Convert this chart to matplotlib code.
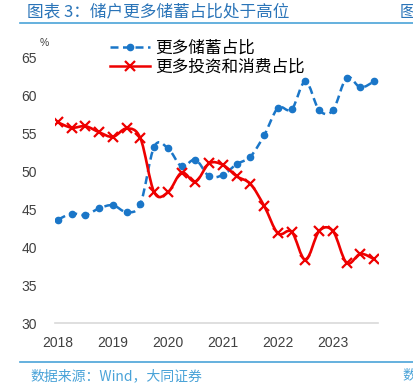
import numpy as np
import matplotlib.pyplot as plt
from matplotlib.path import Path
from matplotlib.patches import PathPatch
from matplotlib.lines import Line2D

plt.rcParams['font.family'] = ['Noto Sans CJK SC', 'DejaVu Sans']

# quarterly data, 2018Q1 .. 2023Q4
years = ["2018", "2019", "2020", "2021", "2022", "2023"]
savings = [43.6, 44.4, 44.2, 45.1, 45.5, 44.6, 45.7, 53.2,
           53.0, 50.6, 51.5, 49.3, 49.5, 50.9, 51.9, 54.7,
           58.3, 58.1, 61.8, 58.0, 58.0, 62.3, 61.0, 61.8]
invest_consume = [56.4, 55.7, 55.9, 55.1, 54.5, 55.6, 54.3, 47.2,
                  47.2, 49.8, 48.6, 51.0, 50.8, 49.3, 48.3, 45.4,
                  41.8, 42.0, 38.3, 42.1, 42.1, 37.9, 39.1, 38.4]
label_sav = "更多储蓄占比"
label_inv = "更多投资和消费占比"

blue = "#1a76c8"
red = "#ee0000"
title_blue = "#2a74b8"
rule_blue = "#4aa3d8"


def smooth_path(x, y, t=1 / 6.):
    # catmull-rom style bezier through the points (excel "smoothed line")
    x = np.asarray(x, float)
    y = np.asarray(y, float)
    n = len(x)
    verts = [(x[0], y[0])]
    codes = [Path.MOVETO]
    for i in range(n - 1):
        x0, y0 = (x[i - 1], y[i - 1]) if i > 0 else (x[i], y[i])
        x3, y3 = (x[i + 2], y[i + 2]) if i + 2 < n else (x[i + 1], y[i + 1])
        c1 = (x[i] + (x[i + 1] - x0) * t, y[i] + (y[i + 1] - y0) * t)
        c2 = (x[i + 1] - (x3 - x[i]) * t, y[i + 1] - (y3 - y[i]) * t)
        verts += [c1, c2, (x[i + 1], y[i + 1])]
        codes += [Path.CURVE4] * 3
    return Path(verts, codes)


fig = plt.figure(figsize=(4.13, 3.88), dpi=100)
ax = fig.add_axes([0.133, 0.1675, 0.782, 0.6855])

xs = np.arange(len(savings))
ax.add_patch(PathPatch(smooth_path(xs, savings), fill=False, ec=blue, lw=1.8,
                       ls=(0, (3.2, 1.8)), zorder=3))
ax.plot(xs, savings, ls="none", marker="o", ms=4.5, color=blue, zorder=4)
ax.add_patch(PathPatch(smooth_path(xs, invest_consume), fill=False, ec=red, lw=1.9,
                       zorder=3))
ax.plot(xs, invest_consume, ls="none", marker="x", ms=7, mew=1.6, color=red, zorder=4)

ax.set_xlim(-0.22, 23.27)
ax.set_ylim(30, 65)
ax.set_yticks(np.arange(30, 66, 5))
ax.set_xticks(np.arange(0, 24, 4))
ax.set_xticklabels(years)
for s in ["top", "right", "left"]:
    ax.spines[s].set_visible(False)
ax.spines["bottom"].set_color("#d9d9d9")
ax.spines["bottom"].set_linewidth(1.2)
ax.tick_params(length=0, labelsize=10, labelcolor="#404040", pad=9)
ax.tick_params(axis="y", pad=13)
for lab in ax.get_xticklabels() + ax.get_yticklabels():
    lab.set_family(["Liberation Sans", "DejaVu Sans"])
ax.text(44 / 413, 1 - 43 / 388, "%", transform=fig.transFigure, fontsize=7.5,
        color="#404040", ha="center", va="center", family=["Liberation Sans"])

handles = [Line2D([], [], color=blue, lw=1.8, ls=(0, (3.2, 1.8)), marker="o", ms=4.5),
           Line2D([], [], color=red, lw=1.8, marker="x", ms=7, mew=1.6)]
fig.legend(handles, [label_sav, label_inv], loc="upper left",
           bbox_to_anchor=(95 / 413, 1 - 25 / 388), frameon=False,
           handlelength=2.4, handletextpad=0.3, labelspacing=0.12,
           prop={"size": 12, "weight": "medium"})

# title and rules
fig.text(27 / 413, 1 - 11.5 / 388, "图表 3：储户更多储蓄占比处于高位", fontsize=12,
         color=title_blue, ha="left", va="center", weight="medium")
fig.text(400 / 413, 1 - 11.5 / 388, "图表", fontsize=12, color=title_blue,
         ha="left", va="center", weight="medium")
fig.add_artist(Line2D([20 / 413, 1], [1 - 22.5 / 388] * 2, color=rule_blue, lw=1.2))
fig.add_artist(Line2D([20 / 413, 1], [1 - 362 / 388] * 2, color=rule_blue, lw=1.2))
fig.text(30 / 413, 1 - 376 / 388, "数据来源：Wind，大同证券", fontsize=10,
         color=rule_blue, ha="left", va="center", style="italic")
fig.text(402 / 413, 1 - 376 / 388, "数据", fontsize=10, color=rule_blue,
         ha="left", va="center", style="italic")

fig.savefig("out.png", dpi=100)
